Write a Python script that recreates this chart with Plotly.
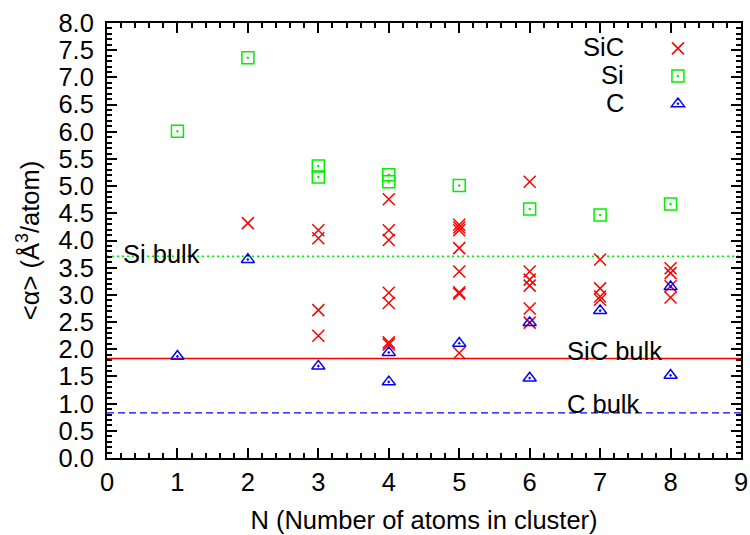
import plotly.graph_objects as go

# ---- data ----
sic_n = [2, 3, 3, 3, 3, 4, 4, 4, 4, 4, 4, 4,
         5, 5, 5, 5, 5, 5, 5, 5, 6, 6, 6, 6, 6, 6,
         7, 7, 7, 7, 8, 8, 8, 8]
sic_alpha = [4.32, 4.19, 4.04, 2.72, 2.25, 4.76, 4.19, 4.01, 3.04, 2.85, 2.13, 2.09,
             4.29, 4.24, 4.19, 3.86, 3.43, 3.05, 3.02, 1.93,
             5.08, 3.43, 3.28, 3.17, 2.75, 2.49,
             3.65, 3.12, 2.97, 2.91,
             3.49, 3.40, 3.16, 2.95]

si_n = [1, 2, 3, 3, 4, 4, 5, 6, 7, 8]
si_alpha = [6.01, 7.36, 5.37, 5.17, 5.21, 5.08, 5.01, 4.58, 4.47, 4.67]

c_n = [1, 2, 3, 4, 4, 5, 6, 6, 7, 8, 8]
c_alpha = [1.87, 3.65, 1.69, 1.94, 1.40, 2.11, 2.49, 1.47, 2.71, 3.15, 1.52]

series_names = ["SiC", "Si", "C"]

bulk_names = ["Si bulk", "SiC bulk", "C bulk"]
bulk_values = [3.71, 1.83, 0.83]

x_range = [0, 9]
y_range = [0, 8]

FONT = "Liberation Sans, Arial, Helvetica, sans-serif"
FS = 25.5
RED = "#ff0000"
GREEN = "#00ee00"
BLUE = "#0000ff"

fig = go.Figure()

fig.add_trace(go.Scatter(
    x=sic_n, y=sic_alpha, mode="markers", name="",
    hovertext=series_names[0],
    marker=dict(symbol="x-thin-open", size=12, color=RED,
                line=dict(color=RED, width=1.5)),
))
fig.add_trace(go.Scatter(
    x=si_n, y=si_alpha, mode="markers", name="",
    hovertext=series_names[1],
    marker=dict(symbol="square-open-dot", size=12, color=GREEN,
                line=dict(color=GREEN, width=1.5)),
))
fig.add_trace(go.Scatter(
    x=c_n, y=c_alpha, mode="markers", name="",
    hovertext=series_names[2],
    marker=dict(symbol="triangle-up-open-dot", size=11.5, color=BLUE,
                line=dict(color=BLUE, width=1.5)),
))

# bulk reference lines
line_styles = [
    dict(color=GREEN, width=1.5, dash="2px,3px"),
    dict(color=RED, width=1.3),
    dict(color=BLUE, width=1.3, dash="7px,4px"),
]
for val, ls in zip(bulk_values, line_styles):
    fig.add_shape(type="line", xref="paper", yref="y", x0=0, x1=1,
                  y0=val, y1=val, line=ls, layer="below")

# bulk labels
label_pos = [(0.2, 3.75), (6.5, 1.97), (6.5, 1.0)]
for name, (lx, ly) in zip(bulk_names, label_pos):
    fig.add_annotation(x=lx, y=ly, xref="x", yref="y", text=name,
                       showarrow=False, xanchor="left", yanchor="middle",
                       font=dict(family=FONT, size=FS, color="black"))

# legend labels (text left of symbols, gnuplot style)
legend_text_y = [0.9448, 0.8805, 0.8161]
for name, ly in zip(series_names, legend_text_y):
    fig.add_annotation(x=0.8185, y=ly, xref="paper", yref="paper", text=name,
                       showarrow=False, xanchor="right", yanchor="middle",
                       font=dict(family=FONT, size=FS, color="black"))

axis_common = dict(
    showgrid=False, zeroline=False, showline=True, linecolor="black",
    linewidth=2, mirror="allticks", ticks="inside", ticklen=10,
    tickwidth=1.5, tickcolor="black", automargin=False,
    tickfont=dict(family=FONT, size=FS, color="black"),
)

fig.update_layout(
    width=750, height=535,
    margin=dict(l=107, r=9, t=23, b=77),
    paper_bgcolor="white", plot_bgcolor="white",
    font=dict(family=FONT, size=FS, color="black"),
    showlegend=True,
    legend=dict(x=0.869, y=0.985, xanchor="left", yanchor="top",
                bgcolor="rgba(0,0,0,0)", borderwidth=0,
                font=dict(family=FONT, size=19), tracegroupgap=0),
    xaxis=dict(
        range=x_range, tick0=0, dtick=1,
        minor=dict(dtick=0.2, ticks="inside", ticklen=5, tickwidth=1.5,
                   tickcolor="black", showgrid=False),
        ticklabelstandoff=0,
        title=dict(text="N (Number of atoms in cluster)",
                   font=dict(family=FONT, size=FS), standoff=17),
        **axis_common,
    ),
    yaxis=dict(
        range=y_range, tick0=0, dtick=0.5, tickformat=".1f",
        minor=dict(dtick=0.1, ticks="inside", ticklen=5, tickwidth=1.5,
                   tickcolor="black", showgrid=False),
        ticklabelstandoff=6,
        title=dict(text="&lt;α&gt; (Å<sup>3</sup>/atom)",
                   font=dict(family=FONT, size=FS), standoff=12),
        **axis_common,
    ),
)

fig.write_html("out.html")
